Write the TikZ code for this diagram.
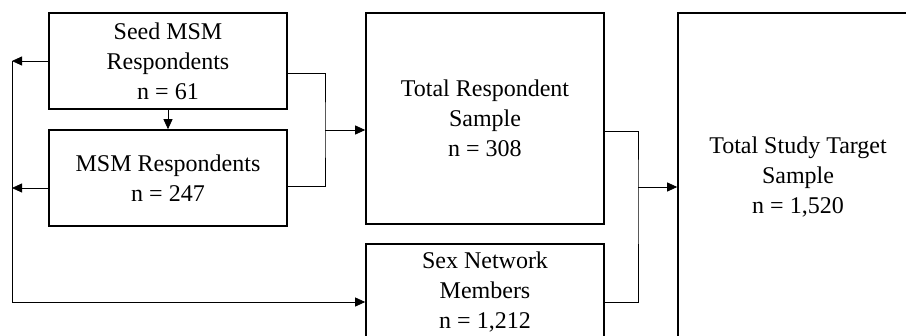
\documentclass[tikz,border=0pt]{standalone}
\usepackage{fontspec}
\setmainfont{Liberation Serif}
\usetikzlibrary{arrows.meta,positioning,calc}

\begin{document}
\begin{tikzpicture}[x=1bp,y=-1bp,
	box/.style={draw,line width=1.6bp,minimum width=238bp,align=center,
		font=\fontsize{24bp}{30bp}\selectfont,inner sep=0pt},
	conn/.style={draw,line width=0.8bp},
	arr/.style={conn,-{Triangle[length=10bp,width=9bp]}}]
	
	\useasboundingbox (0,0) rectangle (906,335);
	\clip (0,0) rectangle (906,335);
	
	% boxes
	\node[box,minimum height=96bp] (seed) at (168,61) {Seed MSM\\Respondents\\n = 61};
	\node[box,minimum height=96bp] (msm) at (168,178) {MSM Respondents\\n = 247};
	\node[box,minimum height=211bp] (total) at (485,118.5) {Total Respondent\\Sample\\n = 308};
	\node[box,minimum height=96bp] (sexnet) at (485,292) {Sex Network\\Members\\n = 1,212};
	\node[box,minimum width=240bp,minimum height=328bp] (study) at (798,177) {Total Study Target\\Sample\\n = 1,520};
	
	\coordinate (rail) at (12,61);
	\coordinate (msmW) at ([yshift=-10bp]msm.west);
	\coordinate (joinA) at (325,130);
	\coordinate (joinB) at (638,187);
	
	% left side
	\draw[arr] (seed.south) -- (msm.north);
	\draw[arr] (seed.west) -- (rail);
	\draw[arr] (msmW) -- (rail |- msmW);
	\draw[arr] (rail) |- ([yshift=-10bp]sexnet.west);
	
	% into total respondent sample
	\draw[conn] ([yshift=-12bp]seed.east) -| (joinA) |- ([yshift=-8bp]msm.east);
	\draw[arr] (joinA) -- (joinA -| total.west);
	
	% into total study target sample
	\draw[conn] ([yshift=-12.5bp]total.east) -| (joinB) |- ([yshift=-10bp]sexnet.east);
	\draw[arr] (joinB) -- (joinB -| study.west);
	
\end{tikzpicture}
\end{document}
